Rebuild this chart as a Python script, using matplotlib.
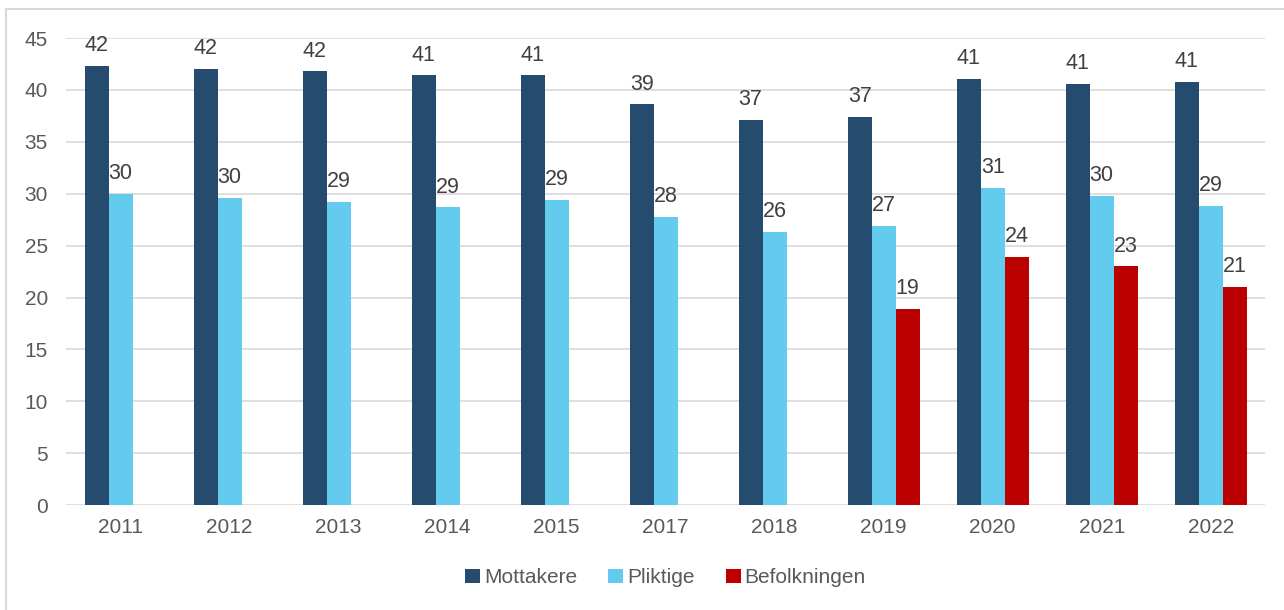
import numpy as np
import matplotlib
matplotlib.use("Agg")
import matplotlib.pyplot as plt
from matplotlib.patches import Rectangle

years = ['2011', '2012', '2013', '2014', '2015', '2017', '2018', '2019', '2020', '2021', '2022']
mottakere = [42.3, 42.0, 41.8, 41.4, 41.4, 38.6, 37.1, 37.4, 41.1, 40.6, 40.8]
pliktige = [30.0, 29.6, 29.2, 28.7, 29.4, 27.8, 26.3, 26.9, 30.6, 29.8, 28.8]
befolkningen = [None, None, None, None, None, None, None, 18.9, 23.9, 23.0, 21.0]

series = [('Mottakere', mottakere, '#254B6E'),
          ('Pliktige', pliktige, '#63CBEE'),
          ('Befolkningen', befolkningen, '#BA0000')]

plt.rcParams['font.family'] = ['Liberation Sans', 'DejaVu Sans']

fig = plt.figure(figsize=(12.84, 6.10), dpi=100)
ax = fig.add_axes([0.0514, 0.172, 0.934, 0.7656])

x = np.arange(len(years))
w = 0.22
for i, (name, vals, col) in enumerate(series):
    xs = [xi + (i - 1) * w for xi, v in zip(x, vals) if v is not None]
    vs = [v for v in vals if v is not None]
    bars = ax.bar(xs, vs, width=w, color=col, label=name, zorder=3)
    for b, v in zip(bars, vs):
        ax.annotate(f'{v:.0f}', (b.get_x() + b.get_width() / 2, v),
                    xytext=(0, 7), textcoords='offset points',
                    ha='center', va='bottom', fontsize=15.5, color='#404040')

ax.set_xlim(-0.5, len(years) - 0.5)
ax.set_ylim(0, 45)
ax.set_yticks(range(0, 46, 5))
ax.set_xticks(x)
ax.set_xticklabels(years)
ax.tick_params(axis='both', length=0, labelsize=15, colors='#595959')
ax.tick_params(axis='x', pad=9)
ax.tick_params(axis='y', pad=13)
ax.grid(axis='y', color='#D9D9D9', linewidth=1.2, zorder=0)
for s in ax.spines.values():
    s.set_visible(False)

ax.legend(loc='upper center', bbox_to_anchor=(0.5, -0.095), ncol=3, frameon=False,
          fontsize=15, handlelength=0.7, handleheight=0.7, handletextpad=0.2,
          columnspacing=1.5, labelcolor='#595959')

fig.patches.append(Rectangle((6 / 1284, -0.05), 1.1, 1 - 9 / 610 + 0.05,
                             transform=fig.transFigure, fill=False,
                             edgecolor='#D9D9D9', linewidth=1.5, zorder=0))

fig.savefig('out.png', dpi=100)
